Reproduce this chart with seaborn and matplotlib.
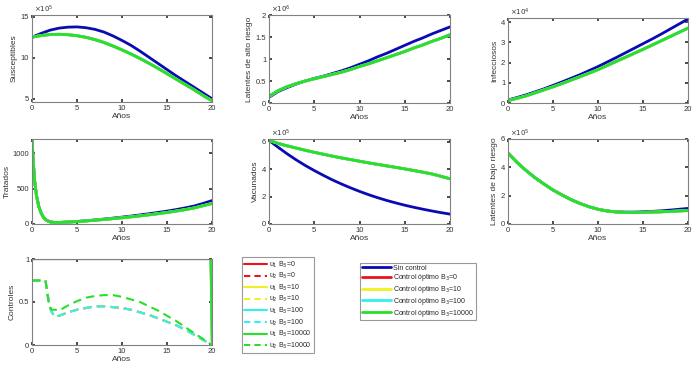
import numpy as np
import pandas as pd
import matplotlib
matplotlib.use('Agg')
import matplotlib.pyplot as plt
import seaborn as sns
from matplotlib.lines import Line2D
from matplotlib.ticker import FormatStrFormatter

sns.set_theme(style="white")
plt.rcParams['font.family'] = ['Liberation Sans', 'DejaVu Sans']

# ---- data ----
t = [0, 1, 2, 3, 4, 5, 6, 7, 8, 9, 10, 11, 12, 13, 14, 15, 16, 17, 18, 19, 20]

# Susceptibles x1e5
sus_sin = [12.5, 12.95, 13.35, 13.6, 13.72, 13.75, 13.65, 13.45, 13.12, 12.65, 12.1, 11.5, 10.8, 10.05, 9.3, 8.55, 7.8, 7.1, 6.4, 5.7, 5.0]
sus_opt = [12.5, 12.7, 12.82, 12.85, 12.8, 12.68, 12.48, 12.2, 11.85, 11.42, 10.95, 10.45, 9.9, 9.32, 8.7, 8.05, 7.4, 6.75, 6.1, 5.4, 4.75]

# Latentes de alto riesgo x1e6
lat_alto_sin = [0.13, 0.26, 0.35, 0.43, 0.5, 0.56, 0.61, 0.67, 0.73, 0.8, 0.88, 0.96, 1.05, 1.13, 1.22, 1.31, 1.4, 1.48, 1.57, 1.65, 1.73]
lat_alto_opt = [0.15, 0.28, 0.37, 0.44, 0.5, 0.55, 0.6, 0.65, 0.7, 0.76, 0.83, 0.89, 0.96, 1.03, 1.1, 1.17, 1.25, 1.32, 1.4, 1.47, 1.55]

# Infecciosos x1e4
inf_sin = [0.15, 0.27, 0.4, 0.55, 0.7, 0.87, 1.04, 1.22, 1.4, 1.6, 1.8, 2.02, 2.24, 2.47, 2.7, 2.93, 3.16, 3.4, 3.65, 3.9, 4.15]
inf_opt = [0.12, 0.23, 0.35, 0.5, 0.65, 0.8, 0.96, 1.13, 1.3, 1.47, 1.65, 1.85, 2.05, 2.25, 2.45, 2.65, 2.86, 3.07, 3.28, 3.49, 3.7]

# Tratados
t_trat = [0, 0.15, 0.3, 0.5, 0.75, 1, 1.25, 1.5, 2, 2.5, 3, 4, 5, 6, 7, 8, 9, 10, 11, 12, 13, 14, 15, 16, 17, 18, 19, 20]
trat_sin = [1200, 850, 600, 400, 250, 160, 100, 62, 30, 22, 22, 28, 36, 46, 57, 70, 83, 97, 112, 128, 145, 163, 182, 203, 227, 253, 290, 330]
trat_opt = [1200, 850, 600, 400, 250, 160, 100, 62, 30, 22, 22, 27, 34, 43, 53, 64, 76, 88, 101, 115, 130, 146, 163, 182, 203, 226, 258, 290]

# Vacunados x1e5
vac_sin = [6.1, 5.6, 5.12, 4.68, 4.27, 3.9, 3.55, 3.22, 2.92, 2.64, 2.38, 2.14, 1.92, 1.72, 1.54, 1.37, 1.22, 1.08, 0.95, 0.83, 0.72]
vac_opt = [6.1, 5.88, 5.7, 5.54, 5.38, 5.23, 5.09, 4.95, 4.82, 4.7, 4.58, 4.46, 4.35, 4.24, 4.13, 4.02, 3.9, 3.78, 3.65, 3.48, 3.3]

# Latentes de bajo riesgo x1e5
lat_bajo_sin = [5.0, 4.35, 3.78, 3.27, 2.82, 2.4, 2.05, 1.72, 1.45, 1.22, 1.04, 0.92, 0.86, 0.84, 0.84, 0.86, 0.89, 0.93, 0.98, 1.04, 1.1]
lat_bajo_opt = [5.0, 4.35, 3.78, 3.27, 2.82, 2.4, 2.05, 1.72, 1.45, 1.22, 1.04, 0.92, 0.85, 0.82, 0.81, 0.82, 0.84, 0.86, 0.89, 0.92, 0.95]

# Controles
t_u1 = [0, 19.85, 20]
u1 = [1, 1, 0]
t_u2_opt = [0, 1.5, 1.7, 1.9, 2.2, 2.6, 3, 4, 5, 6, 7, 8, 9, 10, 11, 12, 13, 14, 15, 16, 17, 18, 19, 20]
u2_opt = [0.75, 0.75, 0.6, 0.45, 0.41, 0.41, 0.4, 0.46, 0.51, 0.55, 0.57, 0.58, 0.58, 0.56, 0.53, 0.5, 0.45, 0.4, 0.34, 0.28, 0.21, 0.14, 0.07, 0]
t_u2_100 = [0, 1.5, 1.8, 2.1, 2.5, 3, 4, 5, 6, 7, 8, 9, 10, 11, 12, 13, 14, 15, 16, 17, 18, 19, 20]
u2_100 = [0.75, 0.75, 0.55, 0.4, 0.33, 0.34, 0.38, 0.41, 0.43, 0.45, 0.45, 0.44, 0.43, 0.41, 0.38, 0.35, 0.31, 0.27, 0.23, 0.18, 0.12, 0.06, 0]

B3 = ['0', '10', '100', '10000']
col_sin = '#0A0AB4'
col_b3 = {'0': '#E8141E', '10': '#F0F020', '100': '#30F0F0', '10000': '#28E028'}

# ---- figure ----
W, H = 698, 374
fig = plt.figure(figsize=(W / 100, H / 100), dpi=100)

def box(x0, y0, x1, y1):
    return [x0 / W, 1 - y1 / H, (x1 - x0) / W, (y1 - y0) / H]

lw = 2.0
fs = 6

def style(ax, ylabel, ylim, yticks, expo=None):
    ax.set_xlim(0, 20)
    ax.set_ylim(*ylim)
    ax.set_xticks([0, 5, 10, 15, 20])
    ax.set_yticks(yticks)
    ax.yaxis.set_major_formatter(FormatStrFormatter('%g'))
    ax.set_xlabel('Años', fontsize=fs, color='#333333', labelpad=1)
    ax.set_ylabel(ylabel, fontsize=fs, color='#333333', labelpad=2)
    ax.tick_params(direction='in', length=2, labelsize=5.5, colors='#333333', pad=2,
                   top=True, right=True, bottom=True, left=True)
    for s in ax.spines.values():
        s.set_color('#808080')
        s.set_linewidth(0.8)
    if expo is not None:
        ax.text(0.01, 1.0, r'$\times10^{%d}$' % expo, transform=ax.transAxes,
                fontsize=5, color='#333333', va='bottom', ha='left')

def states(ax, x, sin, opt):
    sns.lineplot(x=x, y=sin, ax=ax, color=col_sin, lw=lw)
    for b in B3:
        sns.lineplot(x=x, y=opt, ax=ax, color=col_b3[b], lw=lw)

ax1 = fig.add_axes(box(32, 15, 212, 102))
states(ax1, t, sus_sin, sus_opt)
style(ax1, 'Susceptibles', (4.6, 15.2), [5, 10, 15], 5)

ax2 = fig.add_axes(box(269, 15, 450, 103))
states(ax2, t, lat_alto_sin, lat_alto_opt)
style(ax2, 'Latentes de alto riesgo', (0, 2), [0, 0.5, 1, 1.5, 2], 6)

ax3 = fig.add_axes(box(508, 18, 688, 103))
states(ax3, t, inf_sin, inf_opt)
style(ax3, 'Infecciosos', (0, 4.2), [0, 1, 2, 3, 4], 4)

ax4 = fig.add_axes(box(32, 139, 212, 224))
states(ax4, t_trat, trat_sin, trat_opt)
style(ax4, 'Tratados', (0, 1200), [0, 500, 1000])
ax4.yaxis.labelpad = 1

ax5 = fig.add_axes(box(269, 139, 450, 224))
states(ax5, t, vac_sin, vac_opt)
style(ax5, 'Vacunados', (0, 6.2), [0, 2, 4, 6], 5)

ax6 = fig.add_axes(box(508, 139, 688, 224))
states(ax6, t, lat_bajo_sin, lat_bajo_opt)
style(ax6, 'Latentes de bajo riesgo', (0, 6), [0, 2, 4, 6], 5)

ax7 = fig.add_axes(box(32, 259, 212, 345))
for b in B3:
    sns.lineplot(x=t_u1, y=u1, ax=ax7, color=col_b3[b], lw=1.5)
for b, (tx, uy) in zip(B3, [(t_u2_100, u2_100), (t_u2_100, u2_100),
                            (t_u2_100, u2_100), (t_u2_opt, u2_opt)]):
    sns.lineplot(x=tx, y=uy, ax=ax7, color=col_b3[b], lw=1.5, dashes=False,
                 linestyle=(0, (4, 2.5)))
style(ax7, 'Controles', (0, 1), [0, 0.5, 1])

# legends
h1, l1 = [], []
for b in B3:
    h1.append(Line2D([], [], color=col_b3[b], lw=1.5))
    l1.append(r'u$_1$ B$_3$=' + b)
    h1.append(Line2D([], [], color=col_b3[b], lw=1.5, linestyle=(0, (3, 2))))
    l1.append(r'u$_2$ B$_3$=' + b)
leg1 = fig.legend(h1, l1, loc='upper left', bbox_to_anchor=(242 / W, 1 - 257 / H),
                  fontsize=5, frameon=True, fancybox=False, edgecolor='#808080',
                  handlelength=3.2, handletextpad=0.3, labelspacing=0.2,
                  borderpad=0.35, borderaxespad=0)
leg1.get_frame().set_linewidth(0.8)

h2 = [Line2D([], [], color=col_sin, lw=2)]
l2 = ['Sin control']
for b in B3:
    h2.append(Line2D([], [], color=col_b3[b], lw=2))
    l2.append(r'Control óptimo B$_3$=' + b)
leg2 = fig.legend(h2, l2, loc='upper left', bbox_to_anchor=(360 / W, 1 - 263 / H),
                  fontsize=5, frameon=True, fancybox=False, edgecolor='#808080',
                  handlelength=4.2, handletextpad=0.3, labelspacing=0.1,
                  borderpad=0.25, borderaxespad=0)
leg2.get_frame().set_linewidth(0.8)

fig.savefig('out.png', dpi=100)
